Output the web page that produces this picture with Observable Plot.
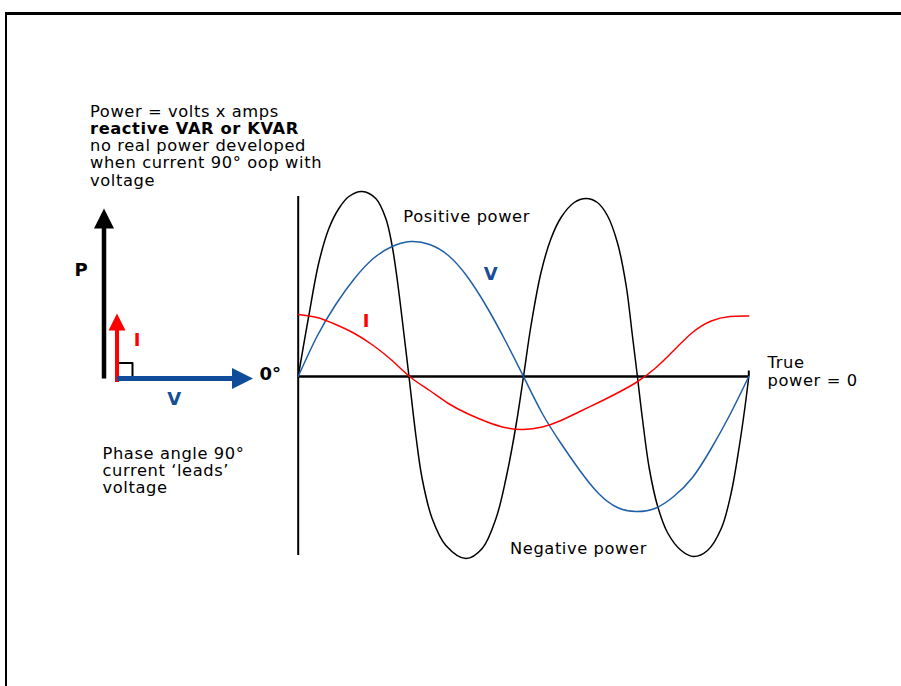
<!DOCTYPE html>
<html>
<head>
<meta charset="utf-8">
<script src="https://cdn.jsdelivr.net/npm/d3@7"></script>
<script src="https://cdn.jsdelivr.net/npm/@observablehq/plot@0.6"></script>
<style>
html, body { margin: 0; padding: 0; background: #fff; }
#page { position: relative; width: 901px; height: 686px; overflow: hidden; font-family: "DejaVu Sans", sans-serif; color: #000; }
.frame-top { position: absolute; left: 5px; top: 12px; right: 0; height: 3px; background: #000; }
.frame-left { position: absolute; left: 5px; top: 12px; width: 2px; bottom: 0; background: #000; }
.note { position: absolute; font-size: 16.3px; letter-spacing: 0.6px; white-space: nowrap; line-height: 17.3px; }
#note1 { left: 90px; top: 102.5px; }
#note2 { left: 102.5px; top: 444.5px; }
#waves, #phasor { position: absolute; left: 0; top: 0; }
</style>
</head>
<body>
<div id="page">
  <div class="frame-top"></div>
  <div class="frame-left"></div>
  <div id="waves"></div>
  <div id="phasor"></div>
  <div class="note" id="note1">Power = volts x amps<br><b>reactive VAR or KVAR</b><br>no real power developed<br>when current 90° oop with<br>voltage</div>
  <div class="note" id="note2">Phase angle 90°<br>current ‘leads’<br>voltage</div>
</div>
<script>
// ---- Waveform data (angle in electrical degrees, value in relative units) ----
const powerAngle = [0, 8.5, 16.5, 24.5, 32.5, 40.5, 51, 62, 70, 75, 79, 83, 88.5, 94, 99, 107, 118, 134, 147, 158, 166, 174, 180, 186, 194, 202, 210, 220.5, 230, 239, 247, 255, 262, 267, 271, 275, 280.5, 287, 295, 306, 316, 327, 338, 346, 352.5, 357, 360];
const powerValue = [0, 61, 114, 148, 168, 180, 185, 178, 158, 131, 98, 58, 0, -59, -102, -142, -169, -182, -172, -142, -102, -49, 0, 51, 104, 138, 159, 174, 178, 174, 161, 134, 91, 41, 0, -42, -92, -129, -156, -174, -180, -174, -152, -116, -69, -30, 0];

const voltageAngle = [0, 15, 30, 45, 60, 75, 90, 105, 120, 135, 150, 165, 180, 195, 210, 225, 240, 255, 270, 285, 300, 315, 330, 345, 360];
const voltageValue = [0, 40, 72, 98, 118, 130, 135, 132, 121, 100, 71, 37, 0, -37, -67, -94, -117, -131, -135, -132, -120, -101, -72, -38, 0];

const currentAngle = [0, 15, 30, 45, 60, 75, 90, 105, 120, 135, 150, 165, 180, 195, 210, 225, 240, 255, 270, 285, 300, 315, 330, 345, 360];
const currentValue = [62, 59, 52, 43, 31, 16, -1, -14, -27, -37, -45, -51, -53, -50.5, -44, -35, -26, -16.5, -6, 8, 26, 44, 55.5, 60, 60.5];

// axis extents (data units)
const angleDomain = [0, 360];
const axisValueRange = [-179, 180];

// ---- Phasor data ----
const phasorName = ["P", "I", "V"];
const phasorDirection = [90, 90, 0];      // degrees, 0 = along reference (0°)
const phasorMagnitude = [170, 68.5, 136];
const phasorStartX = [-13, 0, 0];
const phasorStartY = [0, -3.5, 0];

// ---- Styles ----
const waveColor = {power: "#000000", voltage: "#1e5fa8", current: "#ff0000"};
const phasorColor = ["#000000", "#ff0000", "#0f4c9a"];
const phasorWidth = [4.5, 4, 5];
const phasorHead = [10, 8.5, 10.5];

const toRows = (a, v) => a.map((d, i) => ({angle: d, value: v[i]}));
const power = toRows(powerAngle, powerValue);
const voltage = toRows(voltageAngle, voltageValue);
const current = toRows(currentAngle, currentValue);

// annotation anchors (data units)
const waveNotes = [
  {text: "Positive power", angle: 84, value: 154.3, color: "#000"},
  {text: "Negative power", angle: 169.2, value: -177.3, color: "#000"},
  {text: "True\npower = 0", angle: 375, value: -9, color: "#000"}
];
const waveTags = [
  {text: "V", angle: 154, value: 97, color: "#174f97"},
  {text: "I", angle: 54.4, value: 49.3, color: "#ff0000"}
];

const waves = Plot.plot({
  width: 901, height: 686,
  marginLeft: 297.7, marginRight: 152.7, marginTop: 0, marginBottom: 0,
  x: {domain: angleDomain, axis: null},
  y: {domain: [-310, 376], axis: null},
  color: {type: "identity"},
  style: {background: "transparent", fontFamily: "DejaVu Sans", overflow: "visible", letterSpacing: "0.6px"},
  marks: [
    Plot.ruleY([0], {x1: angleDomain[0], x2: angleDomain[1], stroke: "#000", strokeWidth: 2.6}),
    Plot.ruleX([angleDomain[0]], {y1: axisValueRange[0], y2: axisValueRange[1], stroke: "#000", strokeWidth: 2}),
    Plot.ruleX([angleDomain[1]], {y1: 0, y2: 5.5, stroke: "#000", strokeWidth: 2}),
    Plot.line(power, {x: "angle", y: "value", curve: "catmull-rom", stroke: waveColor.power, strokeWidth: 1.5}),
    Plot.line(voltage, {x: "angle", y: "value", curve: "natural", stroke: waveColor.voltage, strokeWidth: 1.5}),
    Plot.line(current, {x: "angle", y: "value", curve: "natural", stroke: waveColor.current, strokeWidth: 1.5}),
    Plot.text(waveNotes, {x: "angle", y: "value", text: "text", fill: "color", textAnchor: "start", lineAnchor: "bottom", fontSize: 16.3, lineHeight: 1.061}),
    Plot.text(waveTags, {x: "angle", y: "value", text: "text", fill: "color", textAnchor: "middle", lineAnchor: "bottom", fontSize: 18, fontWeight: "bold"})
  ]
});
document.getElementById("waves").appendChild(waves);

// ---- Phasor diagram ----
const arrowHead = {
  draw(context, size) {
    const r = Math.sqrt(size / Math.PI);
    context.moveTo(0, 0);
    context.lineTo(-r, 2 * r);
    context.lineTo(r, 2 * r);
    context.closePath();
  }
};
const phasors = phasorName.map((name, i) => {
  const t = phasorDirection[i] * Math.PI / 180;
  const L = phasorMagnitude[i], h = phasorHead[i];
  return {
    name,
    x0: phasorStartX[i], y0: phasorStartY[i],
    xs: phasorStartX[i] + (L - h) * Math.cos(t), ys: phasorStartY[i] + (L - h) * Math.sin(t),
    xt: phasorStartX[i] + L * Math.cos(t), yt: phasorStartY[i] + L * Math.sin(t),
    rotate: 90 - phasorDirection[i],
    color: phasorColor[i], width: phasorWidth[i], head: h
  };
});
const rightAngle = 15.5;
const phasorLabels = [
  {text: "P", x: -35.8, y: 102.3, color: "#000", anchor: "middle"},
  {text: "I", x: 20.2, y: 33, color: "#ff0000", anchor: "middle"},
  {text: "V", x: 57.3, y: -26.3, color: "#174f97", anchor: "middle"},
  {text: "0°", x: 142.5, y: -1.3, color: "#000", anchor: "start"}
];

const phasorPlot = Plot.plot({
  width: 290, height: 420,
  margin: 0,
  x: {domain: [-116.5, 173.5], axis: null},
  y: {domain: [-42, 378], axis: null},
  r: {type: "identity"},
  color: {type: "identity"},
  style: {background: "transparent", fontFamily: "DejaVu Sans", overflow: "visible"},
  marks: [
    Plot.line([[0, rightAngle], [rightAngle, rightAngle], [rightAngle, 0]], {stroke: "#000", strokeWidth: 2}),
    Plot.link(phasors, {x1: "x0", y1: "y0", x2: "xs", y2: "ys", stroke: "color", strokeWidth: "width"}),
    Plot.dot(phasors, {x: "xt", y: "yt", r: "head", rotate: "rotate", symbol: arrowHead, fill: "color", stroke: null}),
    Plot.text(phasorLabels.filter(d => d.anchor === "middle"), {x: "x", y: "y", text: "text", fill: "color", textAnchor: "middle", lineAnchor: "bottom", fontSize: 18, fontWeight: "bold"}),
    Plot.text(phasorLabels.filter(d => d.anchor === "start"), {x: "x", y: "y", text: "text", fill: "color", textAnchor: "start", lineAnchor: "bottom", fontSize: 18, fontWeight: "bold"})
  ]
});
document.getElementById("phasor").appendChild(phasorPlot);
</script>
</body>
</html>
